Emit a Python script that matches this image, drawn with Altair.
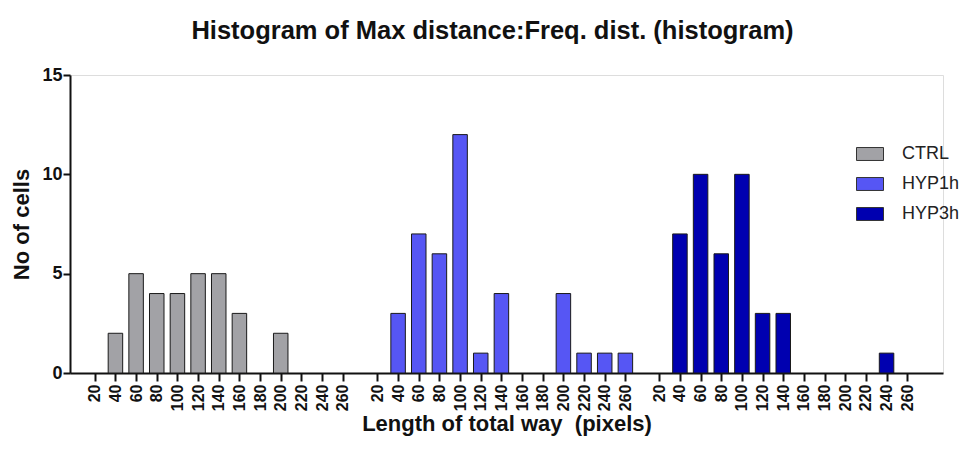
import altair as alt
import pandas as pd

# ---- data ----
bins = [20, 40, 60, 80, 100, 120, 140, 160, 180, 200, 220, 240, 260]
groups = ["CTRL", "HYP1h", "HYP3h"]
ctrl = [0, 2, 5, 4, 4, 5, 5, 3, 0, 2, 0, 0, 0]
hyp1h = [0, 3, 7, 6, 12, 1, 4, 0, 0, 4, 1, 1, 1]
hyp3h = [0, 7, 10, 6, 10, 3, 3, 0, 0, 0, 0, 1, 0]
colors = ["#a2a2a6", "#5656f4", "#0000b0"]

# layout: each group's bins sit on one shared axis, with a gap between groups
group_offset = [0.0, 13.68, 27.32]

rows = []
for g, name, vals in zip(range(3), groups, [ctrl, hyp1h, hyp3h]):
    for i, (b, v) in enumerate(zip(bins, vals)):
        rows.append({"group": name, "bin": b, "count": v, "pos": group_offset[g] + i})
df = pd.DataFrame(rows)

tick_positions = list(df["pos"])

label_expr = (
    "20 + 20 * round(datum.value < 13 ? datum.value : "
    "(datum.value < 27 ? datum.value - 13.68 : datum.value - 27.32))"
)

FONT = "Liberation Sans"

bars = (
    alt.Chart(df)
    .transform_filter("datum.count > 0")
    .mark_bar(size=14.5, stroke="#1a1a1a", strokeWidth=1)
    .encode(
        x=alt.X(
            "pos:Q",
            scale=alt.Scale(domain=[-0.957, 40.81], nice=False, zero=False),
            axis=alt.Axis(
                values=tick_positions,
                labelExpr=label_expr,
                labelAngle=270,
                labelFont=FONT,
                labelFontSize=16,
                labelFontWeight="bold",
                labelColor="#111",
                labelPadding=3,
                tickSize=8,
                tickWidth=2,
                tickColor="#111",
                domainWidth=2,
                domainColor="#111",
                grid=False,
                title="Length of total way\u00a0\u00a0(pixels)",
                titleFont=FONT,
                titleFontSize=22,
                titleFontWeight="bold",
                titleColor="#111",
                titlePadding=3,
            ),
        ),
        y=alt.Y(
            "count:Q",
            scale=alt.Scale(domain=[0, 15], nice=False),
            axis=alt.Axis(
                values=[0, 5, 10, 15],
                labelFont=FONT,
                labelFontSize=18,
                labelFontWeight="bold",
                labelColor="#111",
                labelPadding=1,
                tickSize=7,
                tickWidth=2,
                tickColor="#111",
                domainWidth=2,
                domainColor="#111",
                grid=False,
                title="No of cells",
                titleFont=FONT,
                titleFontSize=22,
                titleFontWeight="bold",
                titleColor="#111",
                titlePadding=8,
            ),
        ),
        color=alt.Color(
            "group:N",
            scale=alt.Scale(domain=groups, range=colors),
            legend=alt.Legend(
                title=None,
                orient="none",
                legendX=786,
                legendY=65,
                symbolType="M-1,-0.48L1,-0.48L1,0.48L-1,0.48Z",
                symbolSize=729,
                symbolStrokeColor="#333",
                symbolStrokeWidth=1,
                symbolOpacity=1,
                labelFont=FONT,
                labelFontSize=18,
                labelColor="#222",
                labelOffset=18,
                rowPadding=7,
            ),
        ),
    )
)

chart = (
    bars.properties(
        width=873,
        height=298,
        title=alt.TitleParams(
            "Histogram of Max distance:Freq. dist. (histogram)",
            font=FONT,
            fontSize=25.5,
            fontWeight="bold",
            color="#111",
            dx=-14,
            offset=22,
        ),
        autosize=alt.AutoSizeParams(type="none"),
        padding={"left": 62, "top": 67, "right": 17, "bottom": 67},
    )
    .configure_view(strokeWidth=0, stroke="transparent")
    .configure(background="white")
)

chart.save("out.html", embed_options={"renderer": "svg", "actions": False})
